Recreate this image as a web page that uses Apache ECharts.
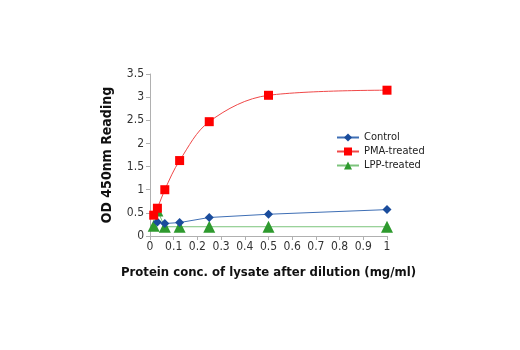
<!DOCTYPE html>
<html>
<head>
<meta charset="utf-8">
<script src="https://cdn.jsdelivr.net/npm/echarts@6/dist/echarts.min.js"></script>
<style>
  html, body { margin: 0; padding: 0; background: #fff; }
  #chart { width: 520px; height: 350px; }
</style>
</head>
<body>
<div id="chart"></div>
<script>
// Protein concentration (mg/ml) and OD 450nm readings per treatment
const concentration = [0.015625, 0.03125, 0.0625, 0.125, 0.25, 0.5, 1];
const controlValues = [null, 0.30, 0.27, 0.29, 0.40, 0.47, 0.57];
const pmaValues     = [0.45, 0.60, 1.00, 1.63, 2.47, 3.04, 3.15];
const lppValues     = [0.22, 0.55, 0.20, 0.20, 0.20, 0.20, 0.20];
const seriesNames = ['Control', 'PMA-treated', 'LPP-treated'];
const xTitle = 'Protein conc. of lysate after dilution (mg/ml)';
const yTitle = 'OD 450nm Reading';

const font = "'Liberation Sans Narrow', 'DejaVu Sans Condensed', 'Arial Narrow', sans-serif";

function pairs(values) {
  const out = [];
  concentration.forEach((c, i) => { if (values[i] != null) out.push([c, values[i]]); });
  return out;
}

const chart = echarts.init(document.getElementById('chart'), null, { renderer: 'canvas' });
chart.setOption({
  animation: false,
  backgroundColor: '#ffffff',
  grid: { left: 150, right: 133, top: 74, bottom: 114, containLabel: false },
  legend: {
    data: seriesNames,
    orient: 'vertical',
    left: 331,
    top: 127,
    itemWidth: 22,
    itemHeight: 10,
    itemGap: 3,
    textStyle: { fontFamily: font, fontSize: 11, color: '#222' }
  },
  xAxis: {
    type: 'value',
    min: 0, max: 1, interval: 0.1,
    name: xTitle,
    nameLocation: 'middle',
    nameGap: 30,
    nameTextStyle: { fontFamily: font, fontSize: 13, fontWeight: 'bold', color: '#111' },
    axisLine: { show: true, lineStyle: { color: '#b0b0b0', width: 1 } },
    axisTick: { show: true, length: 4, lineStyle: { color: '#b0b0b0' } },
    axisLabel: { fontFamily: font, fontSize: 12, color: '#333', margin: 5 },
    splitLine: { show: false }
  },
  yAxis: {
    type: 'value',
    min: 0, max: 3.5, interval: 0.5,
    name: yTitle,
    nameLocation: 'middle',
    nameGap: 36,
    nameRotate: 90,
    nameTextStyle: { fontFamily: font, fontSize: 14, fontWeight: 'bold', color: '#111' },
    axisLine: { show: true, lineStyle: { color: '#b0b0b0', width: 1 } },
    axisTick: { show: true, length: 4, lineStyle: { color: '#b0b0b0' } },
    axisLabel: { fontFamily: font, fontSize: 12, color: '#333', margin: 6 },
    splitLine: { show: false }
  },
  series: [
    {
      name: 'Control',
      type: 'line',
      z: 3,
      data: pairs(controlValues),
      symbol: 'diamond',
      symbolSize: 9,
      lineStyle: { color: '#3f6fb5', width: 1 },
      itemStyle: { color: '#1a4c9c' }
    },
    {
      name: 'PMA-treated',
      type: 'line',
      z: 4,
      smooth: 0.35,
      data: pairs(pmaValues),
      symbol: 'rect',
      symbolSize: 9,
      lineStyle: { color: '#f04848', width: 1 },
      itemStyle: { color: '#ff0000' }
    },
    {
      name: 'LPP-treated',
      type: 'line',
      z: 2,
      data: pairs(lppValues),
      symbol: 'triangle',
      symbolSize: 12,
      lineStyle: { color: '#7cc47c', width: 1 },
      itemStyle: { color: '#2e9a2e' }
    }
  ]
});
</script>
</body>
</html>
